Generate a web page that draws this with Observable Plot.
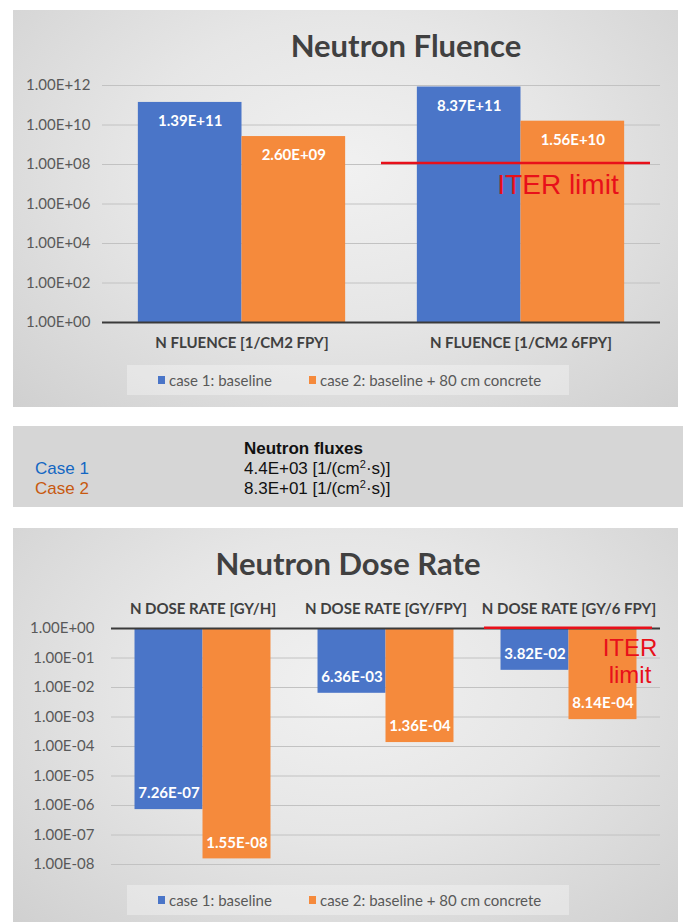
<!DOCTYPE html>
<html><head><meta charset="utf-8">
<script src="https://cdn.jsdelivr.net/npm/d3@7"></script>
<script src="https://cdn.jsdelivr.net/npm/@observablehq/plot@0.6"></script>
<style>
body{margin:0;background:#fff;width:683px;height:922px;position:relative;overflow:hidden;font-family:Lato,sans-serif;}
.panel{position:absolute;background:radial-gradient(ellipse at 50% 40%, #f1f1f1 0%, #e6e6e6 45%, #d0d0d0 100%);}
.panel svg{position:absolute;left:0;top:0;}
.title{position:absolute;font-family:Lato,sans-serif;font-weight:bold;font-size:31px;color:#404040;white-space:nowrap;transform:translate(-50%,-50%);line-height:1;}
.legend{position:absolute;background:rgba(255,255,255,0.32);font-family:Lato,sans-serif;font-size:15px;color:#595959;}
.legend span{position:absolute;white-space:nowrap;line-height:1;transform:translateY(-50%);top:50%;}
.legend i{position:absolute;width:7px;height:8px;top:50%;transform:translateY(-50%);}
#flux{position:absolute;left:13px;top:426px;width:670px;height:81px;background:#d6d6d6;font-family:"Liberation Sans",Arial,sans-serif;font-size:17px;color:#111;}
#flux div{position:absolute;white-space:nowrap;line-height:1;transform:translateY(-50%);}
#flux sup{font-size:11px;vertical-align:6px;line-height:0;}
</style></head>
<body>
<div id="p1" class="panel" style="left:13px;top:10px;width:665px;height:397px;"></div>
<div id="flux"></div>
<div id="p3" class="panel" style="left:13px;top:528px;width:665px;height:394px;"></div>
<script>
// ---------- data ----------
const cases = ["case 1: baseline", "case 2: baseline + 80 cm concrete"];
const caseColors = ["#4A75C8", "#F58A3C"];

const fluenceGroups = ["N FLUENCE [1/CM2 FPY]", "N FLUENCE [1/CM2 6FPY]"];
const fluenceCase1 = [1.39e11, 8.37e11];
const fluenceCase2 = [2.60e9, 1.56e10];
const fluenceTicks = [1, 1e2, 1e4, 1e6, 1e8, 1e10, 1e12];
const fluenceTickLabels = ["1.00E+00", "1.00E+02", "1.00E+04", "1.00E+06", "1.00E+08", "1.00E+10", "1.00E+12"];
const fluenceLimit = 1.2e8;

const doseGroups = ["N DOSE RATE [GY/H]", "N DOSE RATE [GY/FPY]", "N DOSE RATE [GY/6 FPY]"];
const doseCase1 = [7.26e-7, 6.36e-3, 3.82e-2];
const doseCase2 = [1.55e-8, 1.36e-4, 8.14e-4];
const doseTicks = [1, 1e-1, 1e-2, 1e-3, 1e-4, 1e-5, 1e-6, 1e-7, 1e-8];
const doseTickLabels = ["1.00E+00", "1.00E-01", "1.00E-02", "1.00E-03", "1.00E-04", "1.00E-05", "1.00E-06", "1.00E-07", "1.00E-08"];
const doseLimit = 1.05;

const fluxTitle = "Neutron fluxes";
const fluxCases = ["Case 1", "Case 2"];
const fluxValues = ["4.4E+03", "8.3E+01"];
const fluxColors = ["#1367C3", "#C8590F"];

// ---------- helpers ----------
const sci = v => v.toExponential(2).toUpperCase().replace(/E([+-])(\d)$/, "E$10$2");
const red = "#E8101A";

function legend(parent, top) {
  const lg = document.createElement("div");
  lg.className = "legend";
  Object.assign(lg.style, {left: "114px", top: top + "px", width: "442px", height: "30px"});
  const pos = [[31, 42], [182, 193]];
  cases.forEach((c, i) => {
    const sw = document.createElement("i");
    sw.style.left = pos[i][0] + "px"; sw.style.background = caseColors[i];
    const t = document.createElement("span");
    t.style.left = pos[i][1] + "px"; t.textContent = c;
    lg.append(sw, t);
  });
  parent.append(lg);
}
function title(parent, text, cx, cy) {
  const t = document.createElement("div");
  t.className = "title"; t.textContent = text;
  t.style.left = cx + "px"; t.style.top = cy + "px";
  parent.append(t);
}

// ---------- panel 1: fluence ----------
const fluenceData = fluenceGroups.flatMap((g, i) => [
  {group: g, series: cases[0], value: fluenceCase1[i]},
  {group: g, series: cases[1], value: fluenceCase2[i]}
]);
const fluenceLimitData = [{group: fluenceGroups[1], v: fluenceLimit}];
const p1 = document.getElementById("p1");
p1.append(Plot.plot({
  width: 665, height: 397,
  marginLeft: 89, marginRight: 18, marginTop: 75, marginBottom: 85,
  style: {background: "transparent", fontFamily: "Lato, sans-serif", fontSize: "15px", color: "#595959", overflow: "visible"},
  fx: {domain: fluenceGroups, padding: 0, round: false, label: null},
  x: {domain: cases, paddingInner: 0, paddingOuter: 0.346, round: false, axis: null},
  y: {type: "log", domain: [1, 1e12], label: null},
  color: {domain: cases, range: caseColors},
  marks: [
    Plot.gridY(fluenceTicks, {stroke: "#c2c2c2", strokeOpacity: 1, strokeWidth: 1}),
    Plot.barY(fluenceData, {fx: "group", x: "series", y1: 1, y2: "value", fill: "series"}),
    Plot.ruleY([1], {stroke: "#3a3a3a", strokeWidth: 2}),
    Plot.text(fluenceData, {fx: "group", x: "series", y: "value", text: d => sci(d.value), dy: 19, fill: "white", fontWeight: "bold", fontSize: 15}),
    Plot.ruleY(fluenceLimitData, {fx: "group", y: "v", stroke: red, strokeWidth: 2.5, insetRight: 10}),
    Plot.text(fluenceLimitData, {fx: "group", y: "v", text: () => "ITER limit", frameAnchor: "middle", dx: 37, dy: 22, fill: red, fontSize: 28, fontFamily: "Liberation Sans, Arial, sans-serif"}),
    Plot.axisY(fluenceTicks, {tickFormat: d => fluenceTickLabels[fluenceTicks.indexOf(d)], tickSize: 0, tickPadding: 12, fontSize: 15, fill: "#595959", label: null}),
    Plot.axisFx({anchor: "bottom", tickSize: 0, tickPadding: 15, fontWeight: "bold", fontSize: 15, fill: "#404040", label: null})
  ]
}));
title(p1, "Neutron Fluence", 393, 35);
legend(p1, 355);

// ---------- panel 2: flux text ----------
const flux = document.getElementById("flux");
const h = document.createElement("div");
h.style.left = "231px"; h.style.top = "22px"; h.style.fontWeight = "bold"; h.textContent = fluxTitle;
flux.append(h);
fluxCases.forEach((c, i) => {
  const a = document.createElement("div");
  a.style.left = "22px"; a.style.top = (42 + 20 * i) + "px"; a.style.color = fluxColors[i]; a.textContent = c;
  const b = document.createElement("div");
  b.style.left = "231px"; b.style.top = (42 + 20 * i) + "px";
  b.innerHTML = fluxValues[i] + " [1/(cm<sup>2</sup>·s)]";
  flux.append(a, b);
});

// ---------- panel 3: dose rate ----------
const doseData = doseGroups.flatMap((g, i) => [
  {group: g, series: cases[0], value: doseCase1[i]},
  {group: g, series: cases[1], value: doseCase2[i]}
]);
const doseLimitData = [{group: doseGroups[2], v: doseLimit}];
const p3 = document.getElementById("p3");
p3.append(Plot.plot({
  width: 665, height: 394,
  marginLeft: 98, marginRight: 18, marginTop: 100, marginBottom: 58,
  style: {background: "transparent", fontFamily: "Lato, sans-serif", fontSize: "15px", color: "#595959", overflow: "visible"},
  fx: {domain: doseGroups, padding: 0, round: false, label: null},
  x: {domain: cases, paddingInner: 0, paddingOuter: 0.346, round: false, axis: null},
  y: {type: "log", domain: [1e-8, 1], label: null},
  color: {domain: cases, range: caseColors},
  marks: [
    Plot.gridY(doseTicks, {stroke: "#c2c2c2", strokeOpacity: 1, strokeWidth: 1}),
    Plot.barY(doseData, {fx: "group", x: "series", y1: 1, y2: "value", fill: "series"}),
    Plot.ruleY([1], {stroke: "#3a3a3a", strokeWidth: 2}),
    Plot.text(doseData, {fx: "group", x: "series", y: "value", text: d => sci(d.value), dy: -16, fill: "white", fontWeight: "bold", fontSize: 15}),
    Plot.ruleY(doseLimitData, {fx: "group", y: "v", stroke: red, strokeWidth: 2.5, insetLeft: 7, insetRight: 8}),
    Plot.text(doseLimitData, {fx: "group", y: "v", text: () => "ITER\nlimit", frameAnchor: "middle", dx: 61, dy: 33, lineHeight: 1.15, fill: red, fontSize: 24, fontFamily: "Liberation Sans, Arial, sans-serif"}),
    Plot.axisY(doseTicks, {tickFormat: d => doseTickLabels[doseTicks.indexOf(d)], tickSize: 0, tickPadding: 17, fontSize: 15, fill: "#595959", label: null}),
    Plot.axisFx({anchor: "top", tickSize: 0, tickPadding: 15, fontWeight: "bold", fontSize: 15, fill: "#404040", label: null})
  ]
}));
title(p3, "Neutron Dose Rate", 335, 35);
legend(p3, 357);
</script>
</body></html>
